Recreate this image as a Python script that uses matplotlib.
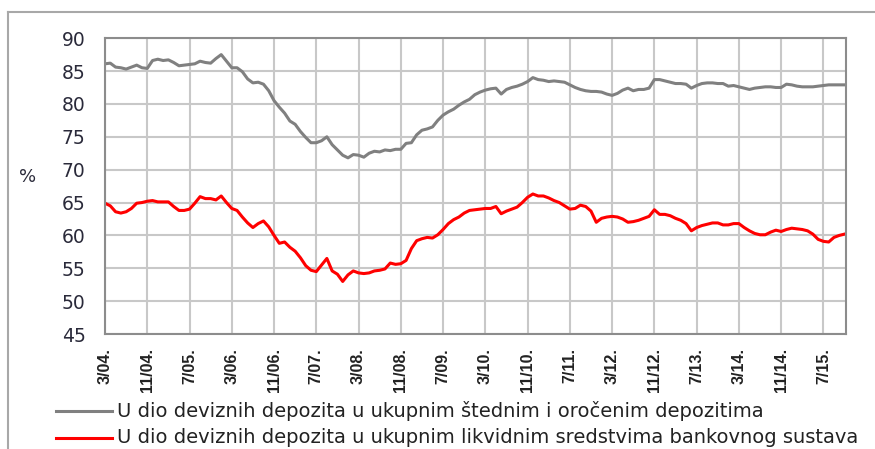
import matplotlib
matplotlib.use('Agg')
import matplotlib.pyplot as plt
from matplotlib.lines import Line2D

plt.rcParams['font.family'] = ['Liberation Sans', 'DejaVu Sans']

# mjesečni podaci, od 3/04 do 11/15
udio_stedni = [
    86.1, 86.2, 85.6, 85.5, 85.3, 85.6, 85.9, 85.5, 85.4, 86.6,
    86.8, 86.6, 86.7, 86.3, 85.8, 85.9, 86.0, 86.1, 86.5, 86.3,
    86.2, 86.9, 87.5, 86.5, 85.5, 85.5, 84.9, 83.8, 83.2, 83.3,
    83.0, 82.0, 80.5, 79.5, 78.6, 77.4, 76.9, 75.8, 74.9, 74.1,
    74.1, 74.4, 75.0, 73.8, 73.0, 72.2, 71.8, 72.3, 72.2, 71.9,
    72.5, 72.8, 72.7, 73.0, 72.9, 73.1, 73.1, 74.0, 74.1, 75.3,
    76.0, 76.2, 76.5, 77.5, 78.3, 78.8, 79.2, 79.8, 80.3, 80.7,
    81.4, 81.8, 82.1, 82.3, 82.4, 81.5, 82.2, 82.5, 82.7, 83.0,
    83.4, 84.0, 83.7, 83.6, 83.4, 83.5, 83.4, 83.3, 82.9, 82.5,
    82.2, 82.0, 81.9, 81.9, 81.8, 81.5, 81.3, 81.6, 82.1, 82.4,
    82.0, 82.2, 82.2, 82.4, 83.7, 83.7, 83.5, 83.3, 83.1, 83.1,
    83.0, 82.4, 82.8, 83.1, 83.2, 83.2, 83.1, 83.1, 82.7, 82.8,
    82.6, 82.4, 82.2, 82.4, 82.5, 82.6, 82.6, 82.5, 82.5, 83.0,
    82.9, 82.7, 82.6, 82.6, 82.6, 82.7, 82.8, 82.9, 82.9, 82.9,
    82.9,
]
udio_likvidni = [
    64.9, 64.5, 63.6, 63.4, 63.6, 64.1, 64.9, 65.0, 65.2, 65.3,
    65.1, 65.1, 65.1, 64.4, 63.8, 63.8, 64.0, 64.9, 65.9, 65.6,
    65.6, 65.4, 66.0, 65.0, 64.1, 63.8, 62.8, 61.9, 61.2, 61.8,
    62.2, 61.3, 60.0, 58.8, 59.0, 58.2, 57.6, 56.6, 55.4, 54.7,
    54.5, 55.5, 56.5, 54.6, 54.1, 53.0, 54.0, 54.6, 54.3, 54.2,
    54.3, 54.6, 54.7, 54.9, 55.8, 55.6, 55.7, 56.2, 58.0, 59.2,
    59.5, 59.7, 59.6, 60.1, 60.9, 61.8, 62.4, 62.8, 63.4, 63.8,
    63.9, 64.0, 64.1, 64.1, 64.4, 63.3, 63.7, 64.0, 64.3, 65.0,
    65.8, 66.3, 66.0, 66.0, 65.7, 65.3, 65.0, 64.5, 64.0, 64.1,
    64.6, 64.4, 63.7, 62.0, 62.6, 62.8, 62.9, 62.8, 62.5, 62.0,
    62.1, 62.3, 62.6, 62.9, 63.9, 63.2, 63.2, 63.0, 62.6, 62.3,
    61.8, 60.7, 61.2, 61.5, 61.7, 61.9, 61.9, 61.6, 61.6, 61.8,
    61.8, 61.2, 60.7, 60.3, 60.1, 60.1, 60.5, 60.8, 60.6, 60.9,
    61.1, 61.0, 60.9, 60.7, 60.2, 59.4, 59.1, 59.0, 59.7, 60.0,
    60.2,
]
oznake = ['3/04.', '11/04.', '7/05.', '3/06.', '11/06.', '7/07.', '3/08.',
          '11/08.', '7/09.', '3/10.', '11/10.', '7/11.', '3/12.', '11/12.',
          '7/13.', '3/14.', '11/14.', '7/15.']
naziv_stedni = 'U dio deviznih depozita u ukupnim štednim i oročenim depozitima'
naziv_likvidni = 'U dio deviznih depozita u ukupnim likvidnim sredstvima bankovnog sustava'

mjeseci = list(range(len(udio_stedni)))

fig = plt.figure(figsize=(8.75, 4.49), dpi=100)
ax = fig.add_axes([0.12, 0.256, 0.847, 0.659])

ax.plot(mjeseci, udio_stedni, color='#808080', lw=2.2, solid_joinstyle='round')
ax.plot(mjeseci, udio_likvidni, color='#FF0000', lw=2.2, solid_joinstyle='round')

ax.set_xlim(0, 140.3)
ax.set_ylim(45, 90)
ax.set_yticks(range(45, 91, 5))
ax.set_yticklabels([str(v) for v in range(45, 91, 5)], family='DejaVu Sans',
                   fontsize=13.5, color='#2a2a3a')
ax.set_xticks([8 * k for k in range(len(oznake))])
ax.set_xticklabels(oznake, rotation=90, ha='center', va='top',
                   fontsize=11.5, fontweight='bold', color='#222222')
ax.tick_params(axis='x', length=0, pad=10)
ax.tick_params(axis='y', length=0, pad=14)
ax.grid(True, color='#c8c8c8', lw=1.5)
ax.set_axisbelow(True)
for s in ax.spines.values():
    s.set_color('#8c8c8c')
    s.set_linewidth(1.5)

fig.text(0.031, 0.605, '%', family='DejaVu Sans', fontsize=13,
         color='#2a2a3a', ha='center', va='center')

# legenda
for y, boja, tekst in [(0.085, '#808080', naziv_stedni), (0.025, '#FF0000', naziv_likvidni)]:
    fig.add_artist(Line2D([0.064, 0.128], [y, y], color=boja, lw=2.2))
    fig.text(0.134, y, tekst, family='DejaVu Sans', fontsize=14,
             color='#222222', va='center', ha='left')

# okvir
fig.add_artist(Line2D([0.009, 1.0], [0.973, 0.973], color='#a8a8a8', lw=1.5))
fig.add_artist(Line2D([0.009, 0.009], [0.0, 0.973], color='#a8a8a8', lw=1.5))

fig.savefig('out.png', dpi=100)
